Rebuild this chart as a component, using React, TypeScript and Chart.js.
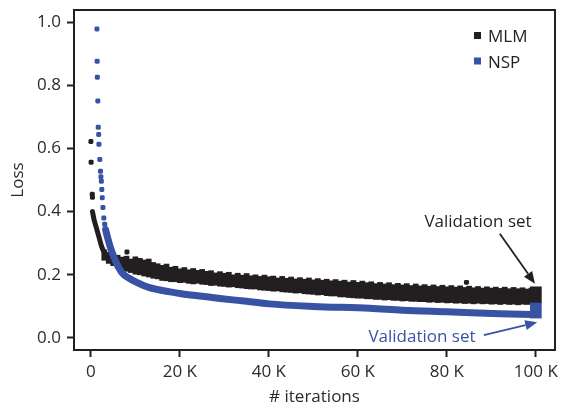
import React, { useEffect, useRef } from 'react';
import { Chart, registerables } from 'chart.js';

Chart.register(...registerables);

const INK = '#231f20';
const BLUE = '#3953a4';
const FONT = 'Open Sans';

const xTicks = [0, 20, 40, 60, 80, 100];
const xTickLabels = ['0', '20 K', '40 K', '60 K', '80 K', '100 K'];
const yTicks = [0, 0.2, 0.4, 0.6, 0.8, 1.0];
const yTickLabels = ['0.0', '0.2', '0.4', '0.6', '0.8', '1.0'];

// iterations are in thousands (K)
// MLM: first individual samples
const mlmEarlyX = [0.0, 0.05, 0.3, 0.35];
const mlmEarlyY = [0.622, 0.556, 0.455, 0.445];
// MLM: dense early descent
const mlmHeadX = [0.35, 0.7, 1.2, 1.8, 2.4, 3.0];
const mlmHeadY = [0.4, 0.375, 0.35, 0.32, 0.29, 0.27];
// MLM: noisy band (low / high envelope of the samples at each iteration)
const mlmBandX = [
  3, 4, 5, 6, 7, 8, 9, 10, 11, 12,
  13, 14, 15, 16, 17, 18, 19, 20, 21, 22,
  23, 24, 25, 26, 27, 28, 29, 30, 31, 32,
  33, 34, 35, 36, 37, 38, 39, 40, 41, 42,
  43, 44, 45, 46, 47, 48, 49, 50, 51, 52,
  53, 54, 55, 56, 57, 58, 59, 60, 61, 62,
  63, 64, 65, 66, 67, 68, 69, 70, 71, 72,
  73, 74, 75, 76, 77, 78, 79, 80, 81, 82,
  83, 84, 85, 86, 87, 88, 89, 90, 91, 92,
  93, 94, 95, 96, 97, 98, 99,
];
const mlmLow = [
  0.246, 0.236, 0.229, 0.221, 0.217, 0.211, 0.207, 0.202, 0.2, 0.196,
  0.193, 0.189, 0.187, 0.182, 0.181, 0.178, 0.178, 0.175, 0.176, 0.173,
  0.171, 0.173, 0.17, 0.169, 0.166, 0.167, 0.164, 0.163, 0.161, 0.162,
  0.159, 0.158, 0.156, 0.155, 0.155, 0.152, 0.151, 0.15, 0.148, 0.149,
  0.146, 0.145, 0.144, 0.142, 0.143, 0.14, 0.139, 0.138, 0.136, 0.137,
  0.134, 0.133, 0.133, 0.13, 0.13, 0.128, 0.127, 0.126, 0.126, 0.124,
  0.124, 0.122, 0.122, 0.12, 0.121, 0.119, 0.119, 0.117, 0.118, 0.116,
  0.116, 0.115, 0.115, 0.113, 0.114, 0.112, 0.113, 0.111, 0.112, 0.11,
  0.111, 0.109, 0.11, 0.108, 0.11, 0.108, 0.109, 0.107, 0.108, 0.106,
  0.108, 0.106, 0.107, 0.105, 0.107, 0.106, 0.108,
];
const mlmHigh = [
  0.279, 0.271, 0.264, 0.262, 0.256, 0.259, 0.25, 0.257, 0.252, 0.247,
  0.25, 0.239, 0.235, 0.23, 0.234, 0.224, 0.227, 0.219, 0.223, 0.216,
  0.22, 0.214, 0.217, 0.211, 0.213, 0.206, 0.21, 0.205, 0.208, 0.2,
  0.205, 0.199, 0.204, 0.197, 0.2, 0.195, 0.199, 0.194, 0.196, 0.19,
  0.195, 0.189, 0.193, 0.187, 0.191, 0.186, 0.19, 0.184, 0.188, 0.183,
  0.186, 0.181, 0.185, 0.18, 0.183, 0.177, 0.182, 0.176, 0.18, 0.175,
  0.178, 0.172, 0.176, 0.171, 0.175, 0.169, 0.173, 0.168, 0.172, 0.166,
  0.171, 0.165, 0.169, 0.164, 0.168, 0.163, 0.167, 0.162, 0.166, 0.161,
  0.165, 0.16, 0.164, 0.159, 0.163, 0.158, 0.162, 0.158, 0.161, 0.157,
  0.161, 0.156, 0.16, 0.156, 0.159, 0.155, 0.158,
];
const mlmOutX = [8.1, 84.4];
const mlmOutY = [0.272, 0.176];

// NSP: first individual samples
const nspDotX = [1.35, 1.4, 1.45, 1.55, 1.65, 1.75, 1.8, 2.0, 2.15, 2.25, 2.35, 2.45, 2.55, 2.7, 2.9, 3.1, 3.3];
const nspDotY = [0.978, 0.876, 0.825, 0.75, 0.667, 0.644, 0.613, 0.565, 0.528, 0.51, 0.496, 0.47, 0.444, 0.413, 0.38, 0.36, 0.343];
// NSP: smooth training curve
const nspX = [3.3, 3.8, 4.3, 5.4, 7, 8.5, 10.3, 13, 17.8, 20, 25, 29, 35, 40, 50, 62.7, 70, 80, 92, 99];
const nspY = [0.343, 0.315, 0.29, 0.248, 0.206, 0.19, 0.176, 0.16, 0.146, 0.141, 0.132, 0.125, 0.116, 0.108, 0.1, 0.094, 0.088, 0.083, 0.077, 0.074];

// Validation sets at 100 K
const valX = [100];
const mlmValRange = [[0.111, 0.162]];
const nspValRange = [[0.063, 0.111]];

const legendLabels = ['MLM', 'NSP'];
const legendColors = [INK, BLUE];
const annotationText = 'Validation set';

function drawArrow(ctx: CanvasRenderingContext2D, x1: number, y1: number, x2: number, y2: number, color: string) {
  const ang = Math.atan2(y2 - y1, x2 - x1);
  const headLen = 12;
  const headW = 5;
  const bx = x2 - headLen * Math.cos(ang);
  const by = y2 - headLen * Math.sin(ang);
  ctx.strokeStyle = color;
  ctx.fillStyle = color;
  ctx.lineWidth = 1.8;
  ctx.beginPath();
  ctx.moveTo(x1, y1);
  ctx.lineTo(bx, by);
  ctx.stroke();
  ctx.beginPath();
  ctx.moveTo(x2, y2);
  ctx.lineTo(bx + headW * Math.sin(ang), by - headW * Math.cos(ang));
  ctx.lineTo(bx - headW * Math.sin(ang), by + headW * Math.cos(ang));
  ctx.closePath();
  ctx.fill();
}

const decorPlugin = {
  id: 'decor',
  afterDraw(chart: any) {
    const { ctx, chartArea: a, scales } = chart;
    const xs = scales.x;
    const ys = scales.y;
    ctx.save();
    ctx.strokeStyle = INK;
    ctx.lineWidth = 2;
    ctx.strokeRect(a.left, a.top, a.right - a.left, a.bottom - a.top);

    // legend
    ctx.font = `17px "${FONT}"`;
    ctx.textBaseline = 'alphabetic';
    ctx.textAlign = 'left';
    legendLabels.forEach((lab, i) => {
      const cy = a.top + 25.5 + i * 25.5;
      ctx.fillStyle = legendColors[i];
      ctx.fillRect(a.right - 81, cy - 3.5, 7, 7);
      ctx.fillStyle = INK;
      ctx.fillText(lab, a.right - 67, cy + 6.5);
    });

    // annotations
    ctx.textAlign = 'center';
    ctx.fillStyle = INK;
    ctx.fillText(annotationText, xs.getPixelForValue(87), ys.getPixelForValue(0.352));
    drawArrow(ctx, xs.getPixelForValue(91.9), ys.getPixelForValue(0.33), xs.getPixelForValue(99.8), ys.getPixelForValue(0.172), INK);
    ctx.fillStyle = BLUE;
    ctx.fillText(annotationText, xs.getPixelForValue(74.4), ys.getPixelForValue(-0.013));
    drawArrow(ctx, xs.getPixelForValue(88.3), ys.getPixelForValue(0.009), xs.getPixelForValue(100.3), ys.getPixelForValue(0.05), BLUE);
    ctx.restore();
  },
};

export default function App() {
  const ref = useRef<HTMLCanvasElement | null>(null);
  useEffect(() => {
    if (!ref.current) return;
    const font = { family: FONT, size: 17 };
    const pts = (xa: number[], ya: number[]) => xa.map((x, i) => ({ x, y: ya[i] }));
    const chart = new Chart(ref.current, {
      type: 'scatter',
      data: {
        datasets: [
          {
            type: 'line',
            label: 'NSP',
            data: pts(nspX, nspY),
            borderColor: BLUE,
            borderWidth: 7,
            pointRadius: 0,
            cubicInterpolationMode: 'monotone',
            borderCapStyle: 'round',
            order: 0,
          } as any,
          {
            type: 'scatter',
            label: 'NSP early',
            data: pts(nspDotX, nspDotY),
            backgroundColor: BLUE,
            borderWidth: 0,
            pointStyle: 'rectRounded',
            pointRadius: 2.9,
            order: 0,
          } as any,
          {
            type: 'bar',
            label: 'NSP validation',
            data: valX.map((x, i) => ({ x, y: nspValRange[i] })),
            backgroundColor: BLUE,
            borderWidth: 0,
            barThickness: 11,
            grouped: false,
            order: 0,
          } as any,
          {
            type: 'bar',
            label: 'MLM',
            data: mlmBandX.map((x, i) => ({ x, y: [mlmLow[i], mlmHigh[i]] })),
            backgroundColor: INK,
            borderWidth: 0,
            barThickness: 5,
            grouped: false,
            order: 2,
          } as any,
          {
            type: 'line',
            label: 'MLM head',
            data: pts(mlmHeadX, mlmHeadY),
            borderColor: INK,
            borderWidth: 5,
            pointRadius: 0,
            cubicInterpolationMode: 'monotone',
            borderCapStyle: 'round',
            order: 2,
          } as any,
          {
            type: 'scatter',
            label: 'MLM early',
            data: pts(mlmEarlyX.concat(mlmOutX), mlmEarlyY.concat(mlmOutY)),
            backgroundColor: INK,
            borderWidth: 0,
            pointStyle: 'rectRounded',
            pointRadius: 2.9,
            order: 2,
          } as any,
          {
            type: 'bar',
            label: 'MLM validation',
            data: valX.map((x, i) => ({ x, y: mlmValRange[i] })),
            backgroundColor: INK,
            borderWidth: 0,
            barThickness: 11,
            grouped: false,
            order: 1,
          } as any,
        ],
      },
      options: {
        responsive: false,
        animation: false,
        layout: { padding: { top: 10, right: 7, left: 0, bottom: 0 } },
        plugins: { legend: { display: false }, tooltip: { enabled: false } },
        scales: {
          x: {
            type: 'linear',
            min: -3.8,
            max: 104.3,
            offset: false,
            grid: { drawOnChartArea: false, drawTicks: true, tickLength: 7, tickWidth: 2, tickColor: INK, offset: false },
            border: { display: false },
            ticks: {
              font,
              color: '#2b2b2b',
              padding: 5,
              autoSkip: false,
              maxRotation: 0,
              callback: (v: any) => xTickLabels[xTicks.indexOf(Number(v))] ?? '',
            },
            title: { display: true, text: '# iterations', font, color: '#2b2b2b', padding: { top: 0, bottom: 3 } },
            afterBuildTicks: (s: any) => {
              s.ticks = xTicks.map((v) => ({ value: v }));
            },
            afterFit: (s: any) => {
              s.height = 60;
              s.paddingLeft = 0;
              s.paddingRight = 0;
            },
          } as any,
          y: {
            type: 'linear',
            min: -0.038,
            max: 1.038,
            grid: { drawOnChartArea: false, drawTicks: true, tickLength: 7, tickWidth: 2, tickColor: INK, offset: false },
            border: { display: false },
            ticks: {
              font,
              color: '#2b2b2b',
              padding: 6,
              callback: (v: any) => yTickLabels[yTicks.findIndex((t) => Math.abs(t - Number(v)) < 1e-9)] ?? '',
            },
            title: { display: true, text: 'Loss', font, color: '#2b2b2b', padding: { top: 8, bottom: 0 } },
            afterBuildTicks: (s: any) => {
              s.ticks = yTicks.map((v) => ({ value: v }));
            },
            afterFit: (s: any) => {
              s.width = 74;
              s.paddingTop = 0;
              s.paddingBottom = 0;
            },
          } as any,
        },
      },
      plugins: [decorPlugin],
    });
    return () => chart.destroy();
  }, []);
  return (
    <div style={{ position: 'fixed', left: 0, top: 0, width: 562, height: 410, background: '#fff' }}>
      <canvas ref={ref} width={562} height={410} style={{ display: 'block' }} />
    </div>
  );
}
